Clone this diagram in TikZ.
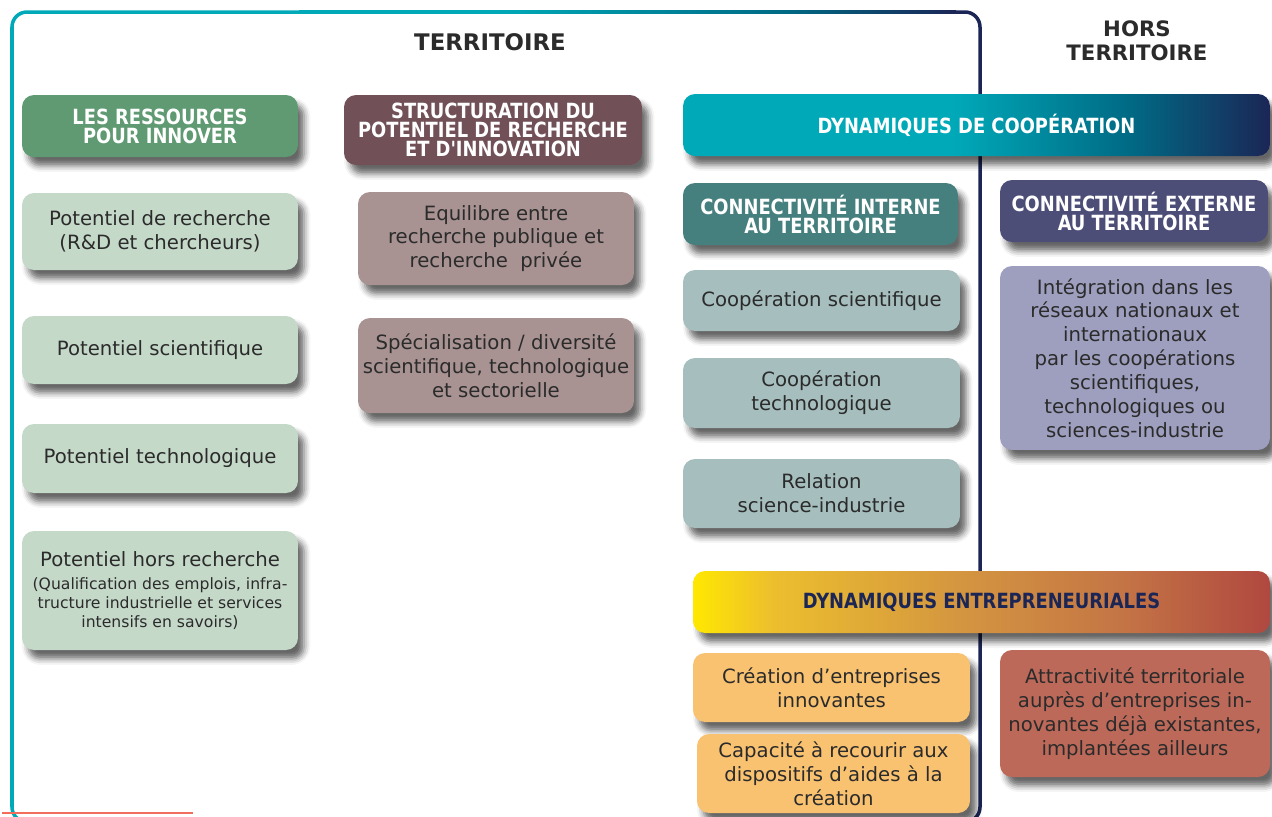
\documentclass[tikz,border=0pt]{standalone}
\usepackage{fontspec}
\setmainfont{DejaVu Sans}
\newfontfamily\headfont{DejaVu Sans Condensed}[FakeStretch=0.95]
\usetikzlibrary{shadows.blur}

\definecolor{frameteal}{HTML}{00A9B8}
\definecolor{framenavy}{HTML}{1B2656}
\definecolor{inkgray}{HTML}{2B2B2B}
\definecolor{resgreen}{HTML}{5F9A72}
\definecolor{potgreen}{HTML}{C5D9C9}
\definecolor{structbrown}{HTML}{715058}
\definecolor{structpink}{HTML}{A89292}
\definecolor{intteal}{HTML}{45807E}
\definecolor{intgray}{HTML}{A6BEBE}
\definecolor{extnavy}{HTML}{4D4E77}
\definecolor{extlilac}{HTML}{9E9FBF}
\definecolor{creaorange}{HTML}{F9C271}
\definecolor{attrred}{HTML}{BD6959}
\definecolor{coopmid}{HTML}{006A85}
\definecolor{entyellow}{HTML}{FFE800}
\definecolor{entgold}{HTML}{ECBE2E}
\definecolor{entorange}{HTML}{D49640}
\definecolor{entrust}{HTML}{C47545}
\definecolor{entred}{HTML}{B04840}
\definecolor{rulered}{HTML}{F26D5B}

\pgfdeclarehorizontalshading{coopshade}{100bp}{color(0bp)=(frameteal); color(25bp)=(frameteal);
  color(48bp)=(frameteal); color(63bp)=(coopmid); color(75bp)=(framenavy); color(100bp)=(framenavy)}
\pgfdeclarehorizontalshading{entshade}{100bp}{color(0bp)=(entyellow); color(25bp)=(entyellow);
  color(32bp)=(entgold); color(48bp)=(entorange); color(62bp)=(entrust); color(75bp)=(entred); color(100bp)=(entred)}
\pgfdeclarehorizontalshading{topshade}{100bp}{color(0bp)=(frameteal); color(25bp)=(frameteal);
  color(40bp)=(frameteal); color(62bp)=(coopmid); color(75bp)=(framenavy); color(100bp)=(framenavy)}

\newcommand{\bodysize}{\fontsize{11.2}{13.6}\selectfont}
\newcommand{\smallsize}{\fontsize{8.9}{10.8}\selectfont}
\newcommand{\headsize}{\headfont\bfseries\fontsize{11.9}{10.8}\selectfont}

\begin{document}
\begin{tikzpicture}[x=0.02cm, y=-0.02cm,
    frameline/.style={line width=2pt},
    card/.style={rounded corners=0.24cm, align=center, inner sep=2pt,
      blur shadow={shadow xshift=3.5pt, shadow yshift=-5pt, shadow blur radius=3.5pt, shadow opacity=60}},
    bodybox/.style={card, text=inkgray, font=\bodysize},
    headbox/.style={card, text=white, font=\headsize},
    title/.style={font=\bfseries\fontsize{12.1}{13.6}\selectfont, text=inkgray, align=center}]
  \useasboundingbox (0,0) rectangle (1272,816);
  \begin{scope}
    \clip (0,0) rectangle (1272,816);
    \draw[frameline, frameteal, rounded corners=0.3cm] (300,12) -- (12,12) -- (12,822) -- (60,822);
    \shade[shading=topshade] (299,10.25) rectangle (956,13.75);
    \draw[frameline, framenavy, rounded corners=0.3cm] (950,12) -- (980,12) -- (980,822) -- (930,822);
    \draw[rulered, line width=0.9pt] (2,813) -- (193,813);
  \end{scope}

  \node[title, font=\bfseries\fontsize{13}{13.6}\selectfont] (terr) at (490,42) {TERRITOIRE};
  \node[title] (hors) at (1137,41) {HORS\\TERRITOIRE};

  \node[headbox, fill=resgreen, minimum width=5.52cm, minimum height=1.24cm] (res) at (160,126) {LES RESSOURCES\\POUR INNOVER};
  \node[headbox, fill=structbrown, minimum width=5.96cm, minimum height=1.40cm] (struct) at (493,130) {STRUCTURATION DU\\POTENTIEL DE RECHERCHE\\ET D'INNOVATION};
  \node[headbox, shading=coopshade, minimum width=11.74cm, minimum height=1.24cm] (coop) at (976.5,125) {DYNAMIQUES DE COOPÉRATION};

  \node[bodybox, fill=potgreen, minimum width=5.52cm, minimum height=1.54cm] (pr) at (160,231.5) {Potentiel de recherche\\(R\&D et chercheurs)};
  \node[bodybox, fill=potgreen, minimum width=5.52cm, minimum height=1.36cm] (ps) at (160,350) {Potentiel scientifique};
  \node[bodybox, fill=potgreen, minimum width=5.52cm, minimum height=1.38cm] (pt) at (160,458.5) {Potentiel technologique};
  \node[bodybox, fill=potgreen, minimum width=5.52cm, minimum height=2.38cm] (ph) at (160,590.5) {Potentiel hors recherche\\
    {\smallsize(Qualification des emplois, infra-}\\[-2.8pt]{\smallsize tructure industrielle et services}\\[-2.8pt]{\smallsize intensifs en savoirs)}};

  \node[bodybox, fill=structpink, minimum width=5.52cm, minimum height=1.86cm] (equi) at (496,238.5) {Equilibre entre\\recherche publique et\\recherche\ \ privée};
  \node[bodybox, fill=structpink, minimum width=5.52cm, minimum height=1.90cm] (spec) at (496,365.5) {Spécialisation / diversité\\scientifique, technologique\\et sectorielle};

  \node[headbox, fill=intteal, minimum width=5.50cm, minimum height=1.24cm] (cint) at (820.5,214) {CONNECTIVITÉ INTERNE\\AU TERRITOIRE};
  \node[headbox, fill=extnavy, minimum width=5.36cm, minimum height=1.24cm] (cext) at (1134,211) {CONNECTIVITÉ EXTERNE\\AU TERRITOIRE};

  \node[bodybox, fill=intgray, minimum width=5.54cm, minimum height=1.22cm] (csci) at (821.5,300.5) {Coopération scientifique};
  \node[bodybox, fill=intgray, minimum width=5.54cm, minimum height=1.40cm] (ctech) at (821.5,393) {Coopération\\technologique};
  \node[bodybox, fill=intgray, minimum width=5.54cm, minimum height=1.38cm] (rsi) at (821.5,493.5) {Relation\\science-industrie};
  \node[bodybox, fill=extlilac, minimum width=5.40cm, minimum height=3.68cm] (integ) at (1135,358) {Intégration dans les\\réseaux nationaux et\\internationaux\\par les coopérations\\scientifiques,\\technologiques ou\\sciences-industrie};

  \node[headbox, shading=entshade, text=framenavy, minimum width=11.54cm, minimum height=1.24cm] (entre) at (981.5,602) {DYNAMIQUES ENTREPRENEURIALES};

  \node[bodybox, fill=creaorange, minimum width=5.54cm, minimum height=1.38cm] (crea) at (831.5,687.5) {Création d'entreprises\\innovantes};
  \node[bodybox, fill=creaorange, minimum width=5.46cm, minimum height=1.58cm] (capa) at (833.5,773.5) {Capacité à recourir aux\\dispositifs d'aides à la\\création};
  \node[bodybox, fill=attrred, minimum width=5.40cm, minimum height=2.54cm] (attr) at (1135,713.5) {Attractivité territoriale\\auprès d'entreprises in-\\novantes déjà existantes,\\implantées ailleurs};
\end{tikzpicture}
\end{document}
